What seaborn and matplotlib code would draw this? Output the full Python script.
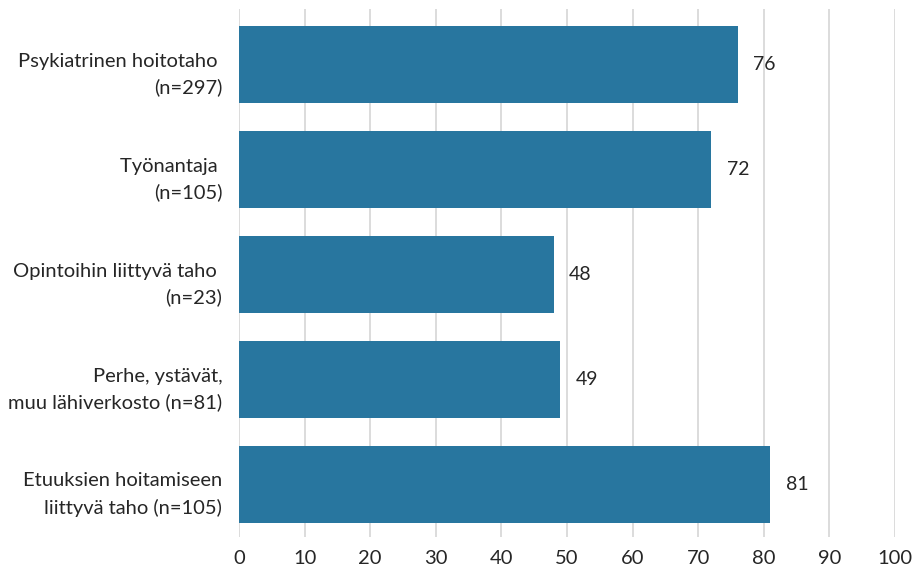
import pandas as pd
import numpy as np
import matplotlib.pyplot as plt
import matplotlib.transforms as mtransforms
import seaborn as sns

# data
categories = ["Psykiatrinen hoitotaho \n(n=297)",
              "Työnantaja \n(n=105)",
              "Opintoihin liittyvä taho \n(n=23)",
              "Perhe, ystävät,\nmuu lähiverkosto (n=81)",
              "Etuuksien hoitamiseen\nliittyvä taho (n=105)"]
values = [76, 72, 48, 49, 81]
xticks = [0, 10, 20, 30, 40, 50, 60, 70, 80, 90, 100]

df = pd.DataFrame({'taho': categories, 'osuus': values})

sns.set_style("white")
plt.rcParams['font.family'] = ['Lato', 'DejaVu Sans']

fig = plt.figure(figsize=(9.2, 5.71), dpi=100)
ax = fig.add_axes([239/920, 34/571, 656/920, 528/571])

sns.barplot(data=df, x='osuus', y='taho', orient='h', color='#28769f',
            saturation=1, width=0.73, linewidth=0, ax=ax, zorder=3)

ax.set_xlim(0, 100)
ax.set_ylim(4.5, -0.53)
ax.set_xticks(xticks)
ax.set_xticklabels([str(t) for t in xticks], fontsize=14.5)
ax.tick_params(axis='y', labelsize=14.5, length=0, pad=12)
ax.tick_params(axis='x', length=0, pad=9)
ax.grid(axis='x', color='#d9d9d9', linewidth=1.3, zorder=0)
ax.set_xlabel('')
ax.set_ylabel('')
for s in ax.spines.values():
    s.set_visible(False)

# labels sit a bit lower than the bar centre in the original
shift = mtransforms.ScaledTranslation(0, -4/100, fig.dpi_scale_trans)
for lbl in ax.get_yticklabels():
    lbl.set_linespacing(1.6)
    lbl.set_transform(lbl.get_transform() + shift)

for c in ax.containers:
    ax.bar_label(c, fmt='%d', padding=11, fontsize=14)

fig.savefig('out.png', dpi=100)
